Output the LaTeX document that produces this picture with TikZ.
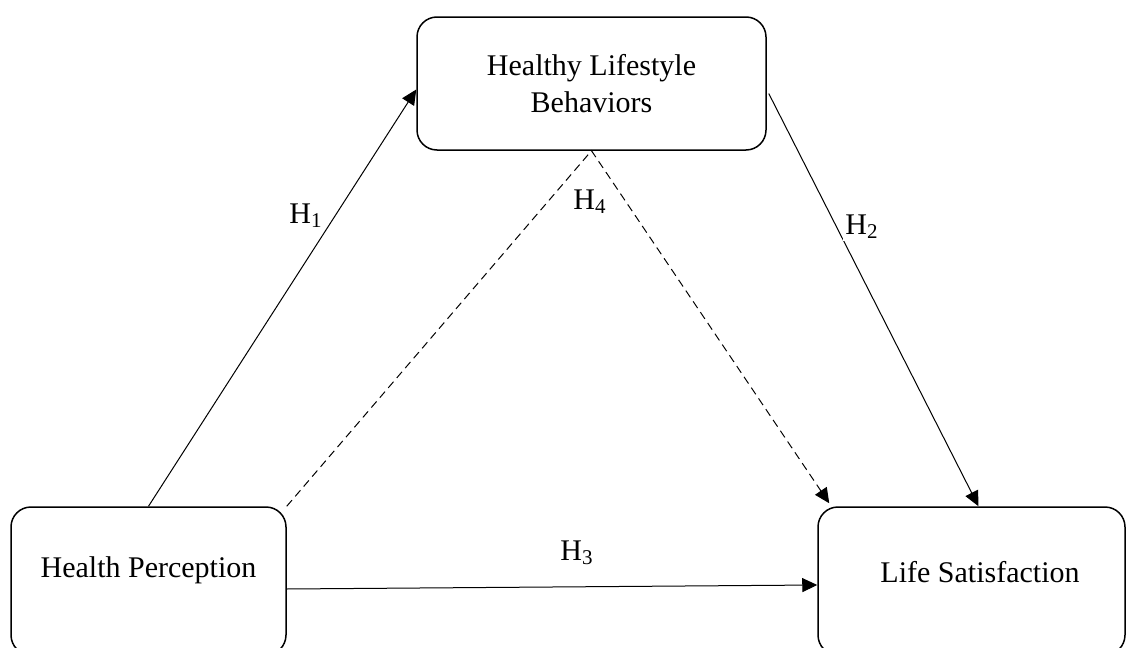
\documentclass[tikz,border=0pt]{standalone}
\usepackage{fontspec}
\setmainfont{Liberation Serif}
\usetikzlibrary{arrows.meta,calc}
\begin{document}
\begin{tikzpicture}[x=0.5pt,y=-0.5pt,
  box/.style={draw,line width=0.75pt,rounded corners=10pt,align=center,inner sep=0pt},
  txt/.style={font=\fontsize{15}{18.5}\selectfont},
  conn/.style={line width=0.5pt,-{Triangle[length=7.5pt,width=7pt]}},
  dashconn/.style={conn,dash pattern=on 4pt off 2.5pt},
  hlab/.style={font=\fontsize{15}{18}\selectfont,inner sep=0pt}]
\clip (0,0) rectangle (1126,648);
\fill[white] (0,0) rectangle (1126,648);
\node[box,txt,minimum width=174.5pt,minimum height=66.5pt] (hb) at (591.5,83.5) {Healthy Lifestyle\\Behaviors};
\node[box,minimum width=137.5pt,minimum height=74pt,
  label={[txt,yshift=5.5pt]center:Health Perception}] (hp) at (148.5,581) {};
\node[box,minimum width=153.5pt,minimum height=74pt,
  label={[txt,yshift=4.5pt,xshift=4.25pt]center:Life Satisfaction}] (ls) at (971.5,581) {};
\draw[conn] (hp.north) -- ($(hb.west)+(0,6)$);
\draw[conn] ($(hb.east)+(2,10)$) -- ($(ls.north)+(7,0)$);
\draw[conn] ($(hp.east)+(0,8)$) -- ($(ls.west)+(0,4)$);
\draw[dashconn] (hp.north east) -- (hb.south) -- ($(ls.north west)+(12,-3)$);
\node[hlab] (h1) at (306,216) {H\textsubscript{1}};
\node[hlab,fill=white,inner sep=1pt] (h2) at (862,227) {H\textsubscript{2}};
\node[hlab] (h3) at (577,553) {H\textsubscript{3}};
\node[hlab] (h4) at (590,202) {H\textsubscript{4}};
\end{tikzpicture}
\end{document}
